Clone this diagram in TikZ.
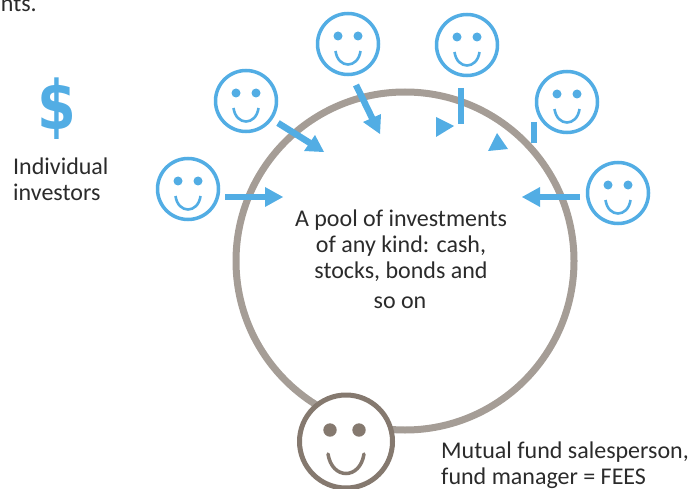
\documentclass[tikz,border=0pt]{standalone}
\usepackage{fontspec}
\setmainfont{Carlito}
\newfontfamily\heavyfont{DejaVu Sans}
\usetikzlibrary{positioning}
\definecolor{investblue}{HTML}{52ADE4}
\definecolor{poolgray}{HTML}{A59D96}
\definecolor{managergray}{HTML}{85796F}
\definecolor{textgray}{HTML}{2B2B2B}
\tikzset{
	face/.style={draw=investblue,line width=3.5pt,circle,fill=white,minimum size=61pt,inner sep=0pt},
	flow/.style={investblue,line width=6.5pt},
	tiph/.style={fill=investblue},
	lbl/.style={text=textgray,font=\fontsize{24}{26}\selectfont,inner sep=0pt}
}
\begin{document}
\begin{tikzpicture}[x=1pt,y=-1pt]
\useasboundingbox (0,0) rectangle (690,489);
\node[draw=poolgray,line width=7pt,circle,minimum size=338pt,inner sep=0pt] (pool) at (405,261) {};
\node[lbl,anchor=base east] (cut) at (37,12) {nts.};
\node[font=\heavyfont\bfseries\fontsize{68}{68}\selectfont,text=investblue,inner sep=0pt,xscale=0.82] (dollar) at (57,108.5) {\$};
\node[lbl,align=left,anchor=north west] (inv) at (13,158) {Individual\\investors};
\node[lbl,align=center] (what) at (401,245.5) {A pool of investments\\of any kind: cash,\\stocks, bonds and};
\node[lbl] (soon) at (400,303) {so on};
\node[lbl,align=left,anchor=north west] (fees) at (441,441.5) {Mutual fund salesperson,\\fund manager = FEES};
% investors
\foreach \nm/\x/\y in {a/188/189,b/246/101,c/348/44,d/467/45,e/567/102,f/618/193}{
	\node[face] (\nm) at (\x,\y) {};
	\fill[investblue] (\x-10,\y-8) circle (4.5pt) (\x+10,\y-8) circle (4.5pt);
	\draw[investblue,line width=2.6pt] (\x-12.5,\y+7) .. controls (\x-10,\y+25) and (\x+10,\y+25) .. (\x+12.5,\y+7);
}
% whole arrows
\coordinate (a1) at (225,197);
\coordinate (a2) at (266,197);
\coordinate (a3) at (283,197);
\draw[flow] (a1) -- (a2);
\fill[tiph] (265,187) -- (a3) -- (265,207) -- cycle;
\coordinate (b1) at (278,123);
\coordinate (b2) at (310,143);
\coordinate (b3) at (324,152);
\draw[flow] (b1) -- (b2);
\fill[tiph] (b3) -- (304,151) -- (315,135) -- cycle;
\coordinate (c1) at (356,85);
\coordinate (c2) at (374,122);
\coordinate (c3) at (380,134);
\draw[flow] (c1) -- (c2);
\fill[tiph] (c3) -- (363,122) -- (381,114) -- cycle;
\coordinate (f1) at (580,197);
\coordinate (f2) at (538,197);
\coordinate (f3) at (522,197);
\draw[flow] (f1) -- (f2);
\fill[tiph] (f3) -- (540,187) -- (540,207) -- cycle;
% broken arrows
\coordinate (d1) at (461,88);
\coordinate (d2) at (461,124);
\draw[flow] (d1) -- (d2);
\fill[tiph] (436,117) -- (454,126) -- (436,137) -- cycle;
\coordinate (e1) at (534,122);
\coordinate (e2) at (534,143);
\draw[flow] (e1) -- (e2);
\fill[tiph] (488,151) -- (497,133) -- (508,149) -- cycle;
% manager
\node[draw=managergray,line width=5pt,circle,fill=white,minimum size=93pt,inner sep=0pt] (mgr) at (346,441.5) {};
\fill[managergray] (330,430) circle (6.7pt) (359,430) circle (6.7pt);
\draw[managergray,line width=3.5pt,line cap=round] (328,454) .. controls (332,480) and (360,480) .. (364,454);
\end{tikzpicture}
\end{document}
